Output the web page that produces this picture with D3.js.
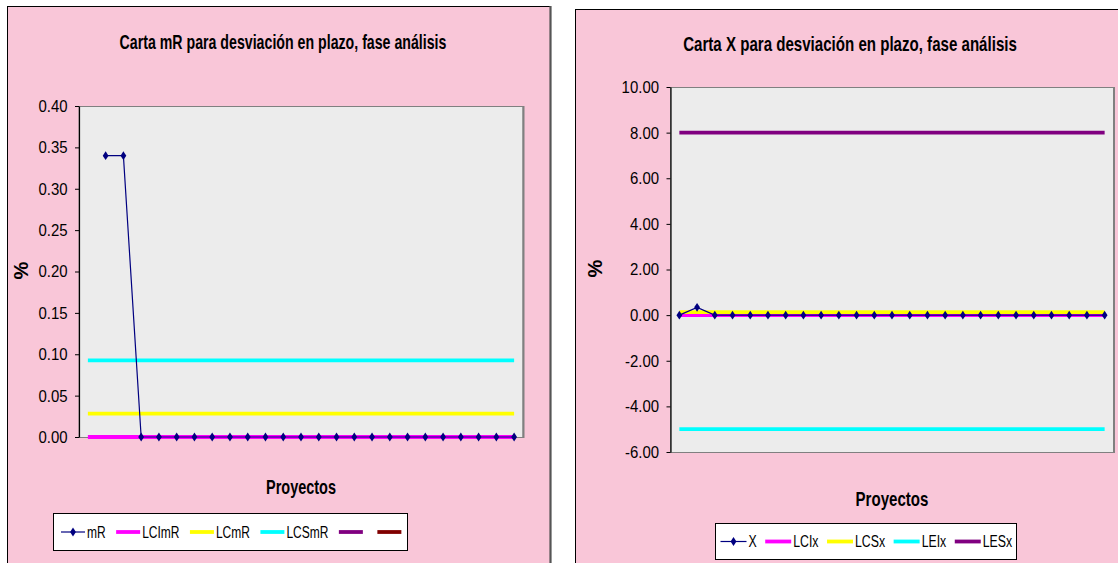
<!DOCTYPE html>
<html>
<head>
<meta charset="utf-8">
<script src="https://cdn.jsdelivr.net/npm/d3@7"></script>
<style>
  html, body { margin: 0; padding: 0; background: #ffffff; overflow: hidden; }
  svg text { font-family: "Liberation Sans", Arial, Helvetica, sans-serif; fill: #000; }
</style>
</head>
<body>
<svg id="chart" width="1118" height="563"></svg>
<script>
// ---- data ----------------------------------------------------------------
const projects = [1, 2, 3, 4, 5, 6, 7, 8, 9, 10, 11, 12, 13, 14, 15, 16, 17, 18, 19, 20, 21, 22, 23, 24, 25];

// moving range (no value for the first project)
const mRValues = [null, 0.34, 0.34, 0, 0, 0, 0, 0, 0, 0, 0, 0, 0, 0, 0, 0, 0, 0, 0, 0, 0, 0, 0, 0, 0];
// individual deviations
const xValues = [0, 0.34, 0, 0, 0, 0, 0, 0, 0, 0, 0, 0, 0, 0, 0, 0, 0, 0, 0, 0, 0, 0, 0, 0, 0];

const mRLimitNames = ["LCImR", "LCmR", "LCSmR"];
const mRLimitValues = [0, 0.0283, 0.0925];

const xLimitNames = ["LCIx", "LCSx", "LEIx", "LESx"];
const xLimitValues = [0, 0.13, -5, 8];

const mRTicks = [0, 0.05, 0.10, 0.15, 0.20, 0.25, 0.30, 0.35, 0.40];
const xTicks = [-6, -4, -2, 0, 2, 4, 6, 8, 10];

const mRLegendNames = ["mR", "LCImR", "LCmR", "LCSmR", "", ""];
const xLegendNames = ["X", "LCIx", "LCSx", "LEIx", "LESx"];

// ---- styles --------------------------------------------------------------
const NAVY = "#000080";
const mRLimitColors = ["#ff00ff", "#ffff00", "#00ffff"];
const mRLegendColors = [NAVY, "#ff00ff", "#ffff00", "#00ffff", "#800080", "#800000"];
const xLimitColors = ["#ff00ff", "#ffff00", "#00ffff", "#800080"];
const xLegendColors = [NAVY, "#ff00ff", "#ffff00", "#00ffff", "#800080"];
const PANEL_FILL = "#f9c6d8";
const PLOT_FILL = "#ececec";

const fmt = d3.formatLocale({ decimal: ".", thousands: ",", grouping: [3], currency: ["$", ""], minus: "-" }).format(".2f");

const svg = d3.select("#chart");

// text helper: horizontally condensed lettering, optionally fitted to a width
function addText(g, str, x, y, o) {
  const t = g.append("text").text(str)
    .attr("text-anchor", o.anchor || "start")
    .attr("dy", o.dy || null)
    .style("font-size", o.size + "px")
    .style("font-weight", o.bold ? "bold" : "normal");
  let sx = o.sx || 1;
  if (o.fit) sx = o.fit / t.node().getComputedTextLength();
  t.attr("transform", `translate(${x},${y})` + (o.rot ? ` rotate(${o.rot})` : "") + ` scale(${sx},1)`);
  return t;
}

function diamondPath(cx, cy) {
  const hw = 2.9, hh = 4.4;
  return `M${cx},${cy - hh}L${cx + hw},${cy}L${cx},${cy + hh}L${cx - hw},${cy}Z`;
}

function drawChart(cfg) {
  const g = svg.append("g");

  // panel
  g.append("rect")
    .attr("x", cfg.panel.x + 0.5).attr("y", cfg.panel.y + 0.5)
    .attr("width", cfg.panel.w).attr("height", cfg.panel.h)
    .attr("fill", PANEL_FILL).attr("stroke", "#000").attr("stroke-width", 1);
  g.append("line")
    .attr("x1", cfg.panel.x + cfg.panel.w + 0.5).attr("x2", cfg.panel.x + cfg.panel.w + 0.5)
    .attr("y1", cfg.panel.y).attr("y2", cfg.panel.y + cfg.panel.h)
    .attr("stroke", "#555").attr("stroke-width", 2.2);

  const p = cfg.plot;
  const x = d3.scalePoint().domain(cfg.categories).range([p.x0, p.x1]).padding(0.5);
  const y = d3.scaleLinear().domain(cfg.yDomain).range([p.y1, p.y0]);

  // plot area
  g.append("rect")
    .attr("x", p.x0).attr("y", p.y0 + 0.5)
    .attr("width", p.x1 - p.x0).attr("height", p.y1 - p.y0)
    .attr("fill", PLOT_FILL).attr("stroke", "#808080").attr("stroke-width", 1);
  g.append("line")
    .attr("x1", p.x1 + 0.5).attr("x2", p.x1 + 0.5).attr("y1", p.y0).attr("y2", p.y1 + 1)
    .attr("stroke", "#808080").attr("stroke-width", 2);

  // value axis
  const ax = g.append("g").attr("transform", `translate(${p.x0},0)`)
    .call(d3.axisLeft(y).tickValues(cfg.ticks).tickSize(4).tickSizeOuter(0).tickFormat(fmt));
  ax.select(".domain").attr("stroke", "#000").attr("stroke-width", 1.2);
  ax.selectAll(".tick line").attr("stroke", "#000");
  const tsx = 0.88;
  ax.selectAll(".tick text")
    .attr("x", -11.5 / tsx)
    .attr("transform", `scale(${tsx},1)`)
    .style("font-size", "17px")
    .style("font-family", "'Liberation Sans', Arial, sans-serif")
    .attr("fill", "#000");

  // limit lines across all projects
  const first = cfg.categories[0], last = cfg.categories[cfg.categories.length - 1];
  cfg.limitValues.forEach((v, i) => {
    g.append("line")
      .attr("x1", x(first)).attr("x2", x(last))
      .attr("y1", y(v)).attr("y2", y(v))
      .attr("stroke", cfg.limitColors[i]).attr("stroke-width", 3.8);
  });

  // main series
  const pts = cfg.categories.map((c, i) => ({ c, v: cfg.values[i] })).filter(d => d.v !== null);
  const line = d3.line().x(d => x(d.c)).y(d => y(d.v));
  g.append("path").attr("d", line(pts))
    .attr("fill", "none").attr("stroke", NAVY).attr("stroke-width", 1.2);
  g.selectAll(null).data(pts).enter().append("path")
    .attr("d", d => diamondPath(x(d.c), y(d.v)))
    .attr("fill", NAVY);

  // titles
  addText(g, cfg.title, cfg.titlePos[0], cfg.titlePos[1], { size: 20, bold: true, anchor: "middle", fit: cfg.titleWidth });
  addText(g, "Proyectos", (p.x0 + p.x1) / 2, cfg.xTitleY, { size: 20, bold: true, anchor: "middle", fit: cfg.xTitleWidth });
  addText(g, "%", cfg.yTitlePos[0], cfg.yTitlePos[1], { size: 20, bold: true, anchor: "middle", rot: -90, dy: "0.35em" });

  // legend
  const L = cfg.legend;
  const lg = g.append("g");
  lg.append("rect")
    .attr("x", L.x0 + 0.5).attr("y", L.y0 + 0.5)
    .attr("width", L.x1 - L.x0).attr("height", L.y1 - L.y0)
    .attr("fill", "#fff").attr("stroke", "#000").attr("stroke-width", 1);
  const cy = (L.y0 + L.y1) / 2 + 0.5;
  let cx = L.x0 + L.pad;
  cfg.legendNames.forEach((name, i) => {
    const isMain = i === 0;
    lg.append("line")
      .attr("x1", cx).attr("x2", cx + L.sample).attr("y1", cy).attr("y2", cy)
      .attr("stroke", cfg.legendColors[i]).attr("stroke-width", isMain ? 1.2 : 3.8);
    if (isMain) lg.append("path").attr("d", diamondPath(cx + L.sample / 2, cy)).attr("fill", NAVY);
    cx += L.sample + 2;
    if (name) {
      const t = addText(lg, name, cx, cy, { size: 16, sx: L.sx, dy: "0.36em" });
      cx += t.node().getComputedTextLength() * L.sx;
    } else {
      cx += 2;
    }
    cx += L.gap;
  });
}

drawChart({
  panel: { x: 7, y: 6, w: 543, h: 600 },
  plot: { x0: 79, x1: 523, y0: 106, y1: 437 },
  categories: projects,
  values: mRValues,
  yDomain: [0, 0.4],
  ticks: mRTicks,
  limitValues: mRLimitValues,
  limitColors: mRLimitColors,
  title: "Carta mR para desviación en plazo, fase análisis",
  titlePos: [283, 48.5],
  titleWidth: 327,
  xTitleY: 493.5,
  xTitleWidth: 70,
  yTitlePos: [21, 270.5],
  legendNames: mRLegendNames,
  legendColors: mRLegendColors,
  legend: { x0: 53, x1: 407, y0: 513, y1: 550, pad: 8, sample: 24, gap: 10.5, sx: 0.75 }
});

drawChart({
  panel: { x: 575, y: 9, w: 560, h: 600 },
  plot: { x0: 670.5, x1: 1113.5, y0: 87, y1: 452 },
  categories: projects,
  values: xValues,
  yDomain: [-6, 10],
  ticks: xTicks,
  limitValues: xLimitValues,
  limitColors: xLimitColors,
  title: "Carta X para desviación en plazo, fase análisis",
  titlePos: [850, 50.5],
  titleWidth: 334,
  xTitleY: 505.5,
  xTitleWidth: 73,
  yTitlePos: [595, 268.5],
  legendNames: xLegendNames,
  legendColors: xLegendColors,
  legend: { x0: 715, x1: 1016, y0: 523, y1: 559, pad: 5.5, sample: 26, gap: 8.5, sx: 0.77 }
});
</script>
</body>
</html>
